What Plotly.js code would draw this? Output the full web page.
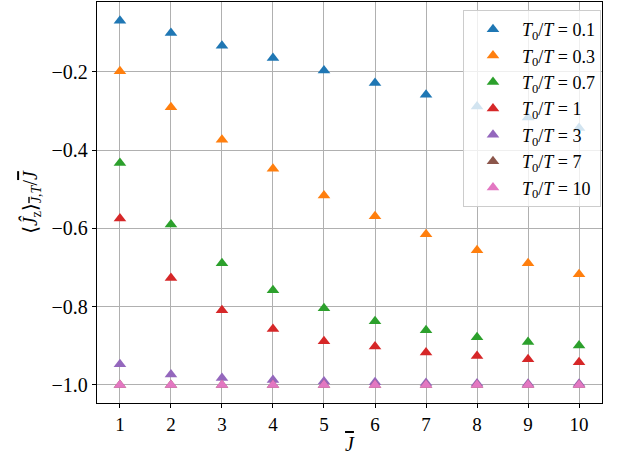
<!DOCTYPE html>
<html>
<head>
<meta charset="utf-8">
<script src="https://cdn.plot.ly/plotly-3.0.1.min.js"></script>
<style>html,body{margin:0;padding:0;background:#fff}#chart{width:628px;height:455px}</style>
</head>
<body>
<div id="chart"></div>
<script>
const Jbar = [1, 2, 3, 4, 5, 6, 7, 8, 9, 10];
const labels = ['0.1', '0.3', '0.7', '1', '3', '7', '10'];
const vals_01 = [-0.070, -0.101, -0.134, -0.165, -0.197, -0.229, -0.259, -0.289, -0.317, -0.344];
const vals_03 = [-0.199, -0.291, -0.374, -0.448, -0.516, -0.569, -0.615, -0.656, -0.689, -0.717];
const vals_07 = [-0.433, -0.590, -0.689, -0.758, -0.804, -0.837, -0.860, -0.878, -0.890, -0.899];
const vals_1  = [-0.575, -0.727, -0.809, -0.857, -0.888, -0.902, -0.917, -0.926, -0.934, -0.942];
const vals_3  = [-0.947, -0.973, -0.982, -0.987, -0.991, -0.993, -0.995, -0.996, -0.997, -0.997];
const vals_7  = [-1.000, -1.000, -1.000, -1.000, -1.000, -1.000, -1.000, -1.000, -1.000, -1.000];
const vals_10 = [-1.000, -1.000, -1.000, -1.000, -1.000, -1.000, -1.000, -1.000, -1.000, -1.000];
const series = [vals_01, vals_03, vals_07, vals_1, vals_3, vals_7, vals_10];
const colors = ['#1f77b4', '#ff7f0e', '#2ca02c', '#d62728', '#9467bd', '#8c564b', '#e377c2'];
const xticks = [1, 2, 3, 4, 5, 6, 7, 8, 9, 10];
const yticks = [-1.0, -0.8, -0.6, -0.4, -0.2];
const yticklabels = ['\u22121.0', '\u22120.8', '\u22120.6', '\u22120.4', '\u22120.2'];

const Jb = '<span style="text-decoration:overline"><i>J</i></span>';

const traces = series.map((v, i) => ({
  x: Jbar, y: v, type: 'scatter', mode: 'markers',
  name: '<i>T</i><sub>0</sub>/<i>T</i> = ' + labels[i],
  marker: {symbol: 'triangle-up', size: 11, color: colors[i]},
  cliponaxis: false
}));

const font = 'Liberation Serif, DejaVu Serif, serif';
const layout = {
  width: 628, height: 455,
  margin: {l: 97, r: 26, t: 2, b: 52},
  paper_bgcolor: '#fff', plot_bgcolor: '#fff',
  font: {family: font, size: 18, color: '#000'},
  showlegend: true,
  legend: {
    x: 0.998, xanchor: 'right', y: 0.98, yanchor: 'top',
    bgcolor: 'rgba(255,255,255,0.8)', bordercolor: '#cccccc', borderwidth: 1,
    font: {family: font, size: 18, color: '#000'},
    itemwidth: 48
  },
  xaxis: {
    range: [0.55, 10.45], tickvals: xticks, ticktext: xticks.map(String),
    showgrid: true, gridcolor: '#b0b0b0', gridwidth: 1,
    showline: true, linecolor: '#000', linewidth: 1.2, mirror: true,
    ticks: 'outside', ticklen: 4, tickcolor: '#000', zeroline: false,
    tickfont: {family: font, size: 19},
    title: {text: Jb, font: {family: font, size: 20}, standoff: 4}
  },
  yaxis: {
    range: [-1.046, -0.022], tickvals: yticks, ticktext: yticklabels,
    showgrid: true, gridcolor: '#b0b0b0', gridwidth: 1,
    showline: true, linecolor: '#000', linewidth: 1.2, mirror: true,
    ticks: 'outside', ticklen: 4, tickcolor: '#000', zeroline: false,
    tickfont: {family: font, size: 20},
    title: {text: '\u27E8<i>J\u0302</i><sub>z</sub>\u27E9<sub>' + Jb + ',<i>T</i></sub>/' + Jb, font: {family: font, size: 20}, standoff: 8}
  }
};
Plotly.newPlot('chart', traces, layout, {displayModeBar: false, staticPlot: true});
</script>
</body>
</html>
